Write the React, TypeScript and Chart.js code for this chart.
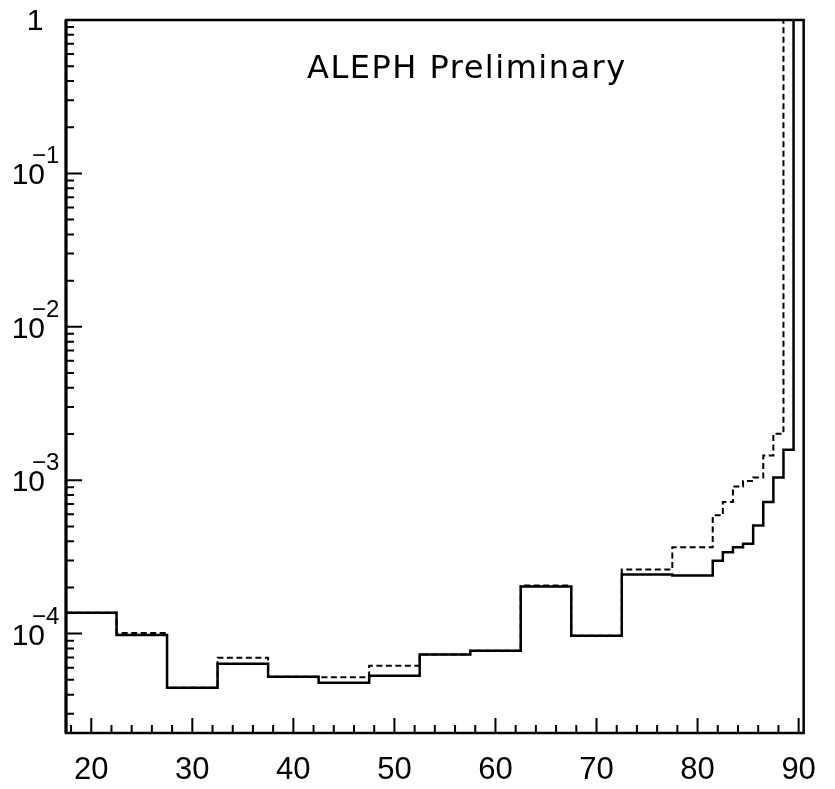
import React, { useEffect, useRef } from "react";
import { Chart, registerables } from "chart.js";

Chart.register(...registerables);

// ---- Data ----
const binEdges = [
  17.5, 22.5, 27.5, 32.5, 37.5, 42.5, 47.5, 52.5, 57.5, 62.5, 67.5, 72.5,
  77.5, 81.5, 82.5, 83.5, 84.5, 85.5, 86.5, 87.5, 88.5, 89.5, 90.5,
];
const solidValues = [
  1.37e-4, 0.98e-4, 4.44e-5, 6.37e-5, 5.24e-5, 4.79e-5, 5.32e-5, 7.3e-5,
  7.74e-5, 2.03e-4, 0.97e-4, 2.43e-4, 2.39e-4, 2.99e-4, 3.39e-4, 3.65e-4,
  3.85e-4, 5.07e-4, 7.2e-4, 1.04e-3, 1.58e-3, 2,
];
const dashedValues = [
  1.37e-4, 1.01e-4, 4.44e-5, 6.97e-5, 5.24e-5, 5.2e-5, 6.18e-5, 7.3e-5,
  7.74e-5, 2.06e-4, 0.97e-4, 2.62e-4, 3.65e-4, 5.9e-4, 7.2e-4, 9.1e-4,
  9.87e-4, 1.04e-3, 1.45e-3, 2.01e-3, 2, 2,
];
const xMajorTicks = [20, 30, 40, 50, 60, 70, 80, 90];
const xMinorTicks = [
  18, 22, 24, 26, 28, 32, 34, 36, 38, 42, 44, 46, 48, 52, 54, 56, 58, 62, 64,
  66, 68, 72, 74, 76, 78, 82, 84, 86, 88,
];
const yDecadeExponents = [0, -1, -2, -3, -4];
const yMinorMultipliers = [2, 3, 4, 5, 6, 7, 8, 9];
const titleText = "ALEPH Preliminary";
const xMin = 17.5;
const xMax = 90.5;
const yMin = 2.25e-5;
const yMax = 1;

const toSteps = (values: number[]) =>
  binEdges.map((x, i) => ({ x, y: values[Math.min(i, values.length - 1)] }));

const NUM_FONT = '"Liberation Sans", Arial, sans-serif';

const decorPlugin = {
  id: "decor",
  afterDatasetsDraw(chart: any) {
    const { ctx, chartArea: a, scales } = chart;
    const xs = scales.x;
    const ys = scales.y;
    ctx.save();
    ctx.strokeStyle = "#000";
    ctx.fillStyle = "#000";

    // tick marks (inside the frame)
    ctx.lineWidth = 2;
    ctx.beginPath();
    for (const v of xMajorTicks) {
      const px = xs.getPixelForValue(v);
      ctx.moveTo(px, a.bottom);
      ctx.lineTo(px, a.bottom - 15);
    }
    for (const v of xMinorTicks) {
      const px = xs.getPixelForValue(v);
      ctx.moveTo(px, a.bottom);
      ctx.lineTo(px, a.bottom - 8);
    }
    for (const e of yDecadeExponents) {
      const py = ys.getPixelForValue(Math.pow(10, e));
      ctx.moveTo(a.left, py);
      ctx.lineTo(a.left + 16, py);
    }
    for (let e = -5; e < 0; e++) {
      for (const m of yMinorMultipliers) {
        const v = m * Math.pow(10, e);
        if (v < yMin || v > yMax) continue;
        const py = ys.getPixelForValue(v);
        ctx.moveTo(a.left, py);
        ctx.lineTo(a.left + 8, py);
      }
    }
    ctx.stroke();

    // frame
    ctx.lineWidth = 2.5;
    ctx.strokeRect(a.left, a.top, a.right - a.left, a.bottom - a.top);
    ctx.lineWidth = 3;
    ctx.beginPath();
    ctx.moveTo(a.left, a.top);
    ctx.lineTo(a.left, a.bottom);
    ctx.stroke();

    // y labels: 1, 10^-1 ...
    ctx.textBaseline = "alphabetic";
    for (const e of yDecadeExponents) {
      const py = ys.getPixelForValue(Math.pow(10, e));
      if (e === 0) {
        ctx.font = `30px ${NUM_FONT}`;
        ctx.textAlign = "center";
        ctx.fillText("1", a.left - 31, py + 10);
      } else {
        ctx.font = `30px ${NUM_FONT}`;
        ctx.textAlign = "right";
        ctx.fillText("10", a.left - 21, py + 11);
        ctx.font = `24px ${NUM_FONT}`;
        ctx.textAlign = "left";
        ctx.fillText("\u2212" + String(-e), a.left - 34, py - 10);
      }
    }

    // title inside the plot
    ctx.font = '32px "DejaVu Sans", sans-serif';
    ctx.textAlign = "left";
    try {
      (ctx as any).letterSpacing = "1.5px";
    } catch (err) {}
    ctx.fillText(titleText, a.left + 241, a.top + 58);
    ctx.restore();
  },
};

export default function App() {
  const canvasRef = useRef<HTMLCanvasElement | null>(null);

  useEffect(() => {
    const canvas = canvasRef.current;
    if (!canvas) return;
    const chart = new Chart(canvas, {
      type: "line",
      data: {
        datasets: [
          {
            label: "solid",
            data: toSteps(solidValues),
            stepped: "before",
            borderColor: "#000",
            borderWidth: 2.5,
            pointRadius: 0,
            fill: false,
            clip: 0,
          },
          {
            label: "dashed",
            data: toSteps(dashedValues),
            stepped: "before",
            borderColor: "#000",
            borderWidth: 2,
            borderDash: [6, 3.5],
            pointRadius: 0,
            fill: false,
            clip: 0,
          },
        ],
      },
      options: {
        responsive: false,
        animation: false,
        layout: { padding: { left: 0, right: 20, top: 20, bottom: 0 } },
        plugins: {
          legend: { display: false },
          tooltip: { enabled: false },
          title: { display: false },
        },
        scales: {
          x: {
            type: "linear",
            min: xMin,
            max: xMax,
            grid: { display: false, drawTicks: false },
            border: { display: false },
            afterBuildTicks: (scale: any) => {
              scale.ticks = xMajorTicks.map((v) => ({ value: v }));
            },
            afterFit: (scale: any) => {
              scale.height = 56;
            },
            ticks: {
              color: "#000",
              padding: 19,
              maxRotation: 0,
              autoSkip: false,
              font: { family: NUM_FONT, size: 31 },
              callback: (v: any) => String(v),
            },
          },
          y: {
            type: "logarithmic",
            min: yMin,
            max: yMax,
            grid: { display: false, drawTicks: false },
            border: { display: false },
            ticks: { display: false },
            afterBuildTicks: (scale: any) => {
              scale.ticks = yDecadeExponents.map((e) => ({ value: Math.pow(10, e) }));
            },
            afterFit: (scale: any) => {
              scale.width = 66;
            },
          },
        },
      },
      plugins: [decorPlugin],
    });
    return () => chart.destroy();
  }, []);

  return (
    <div
      style={{
        position: "absolute",
        left: 0,
        top: 0,
        width: 835,
        height: 789,
        background: "#fff",
      }}
    >
      <canvas
        ref={canvasRef}
        width={835}
        height={789}
        style={{ display: "block", width: 835, height: 789 }}
      />
    </div>
  );
}
